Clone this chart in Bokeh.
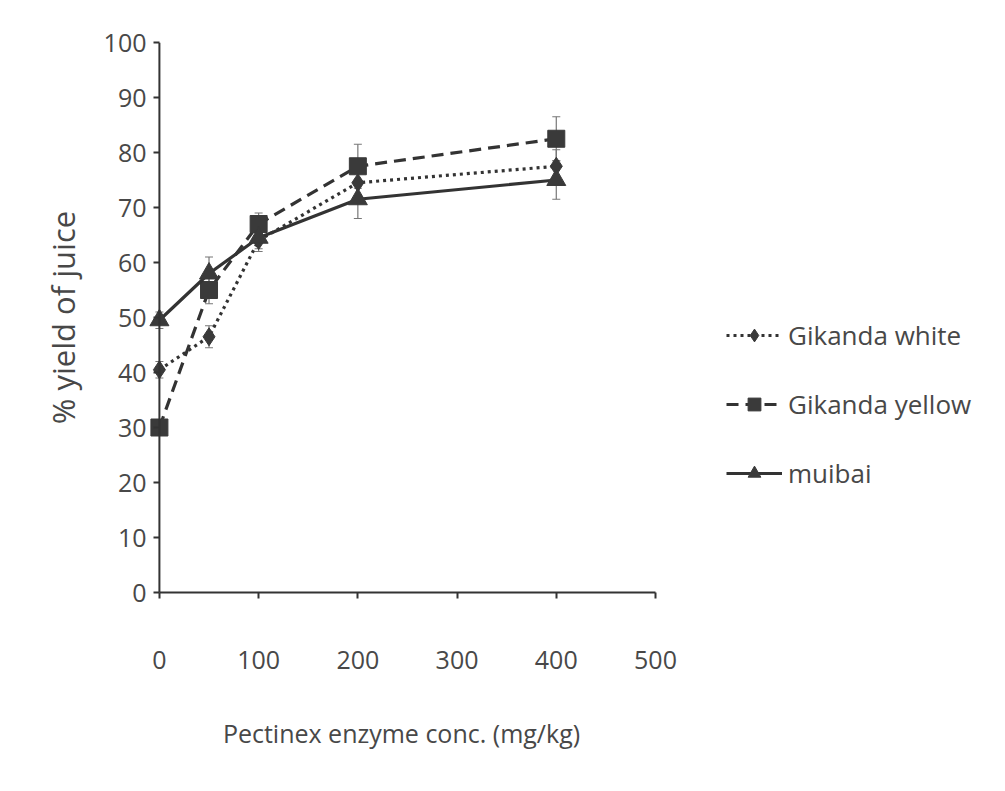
from bokeh.plotting import figure
from bokeh.models import (Range1d, FixedTicker, Legend, LegendItem, Whisker,
                          ColumnDataSource, TeeHead, Span)
from bokeh.embed import file_html
from bokeh.resources import INLINE

# ---- data ----
conc = [0, 50, 100, 200, 400]
x_ticks = [0, 100, 200, 300, 400, 500]
y_ticks = [0, 10, 20, 30, 40, 50, 60, 70, 80, 90, 100]

gikanda_white = [40.5, 46.5, 64.0, 74.5, 77.5]
gikanda_white_err = [1.5, 2.0, 2.0, 3.0, 3.0]
gikanda_yellow = [30.0, 55.0, 67.0, 77.5, 82.5]
gikanda_yellow_err = [1.0, 2.5, 2.0, 4.0, 4.0]
muibai = [49.5, 58.0, 64.5, 71.5, 75.0]
muibai_err = [1.5, 3.0, 2.0, 3.5, 3.5]

series_names = ["Gikanda white", "Gikanda yellow", "muibai"]

FONT = "Open Sans"
TXT = "#484848"
INK = "#333333"

p = figure(frame_width=508, frame_height=550,
           min_border_left=147, min_border_right=334,
           min_border_top=42, min_border_bottom=183,
           x_range=Range1d(-12, 500), y_range=Range1d(0, 100),
           output_backend="svg", toolbar_location=None,
           background_fill_color="white", border_fill_color="white")
p.outline_line_color = None
p.grid.grid_line_color = None

# axes styling
for ax in (p.xaxis[0], p.yaxis[0]):
    ax.axis_line_color = INK
    ax.axis_line_width = 2
    ax.major_tick_line_color = INK
    ax.major_tick_line_width = 2
    ax.minor_tick_line_color = None
    ax.major_label_text_font = FONT
    ax.major_label_text_font_size = "25px"
    ax.major_label_text_color = TXT
    ax.axis_label_text_font = FONT
    ax.axis_label_text_color = TXT
    ax.axis_label_text_font_style = "normal"

p.xaxis.major_tick_in = 0
p.xaxis.major_tick_out = 6
# y axis sits at the frame's left edge; its visible line is drawn at x = 0
p.yaxis.axis_line_color = None
p.yaxis.major_tick_out = -6
p.yaxis.major_tick_in = 12

p.xaxis.ticker = FixedTicker(ticks=x_ticks)
p.yaxis.ticker = FixedTicker(ticks=y_ticks)
p.xaxis.bounds = (0, 500)
p.xaxis.major_label_standoff = 52
p.yaxis.major_label_standoff = 1
p.xaxis.axis_label = "Pectinex enzyme conc. (mg/kg)"
p.yaxis.axis_label = "% yield of juice"
p.xaxis.axis_label_text_font_size = "25px"
p.yaxis.axis_label_text_font_size = "31px"
p.xaxis.axis_label_standoff = 44
p.yaxis.axis_label_standoff = 17

p.add_layout(Span(location=0, dimension="height", line_color=INK, line_width=2))

data = [
    (gikanda_white, gikanda_white_err, "3 4", "diamond", 18),
    (gikanda_yellow, gikanda_yellow_err, "12 7", "square", 17),
    (muibai, muibai_err, "solid", "triangle", 19),
]

items = []
for name, (vals, errs, dash, marker, size) in zip(series_names, data):
    src = ColumnDataSource(dict(x=conc, y=vals,
                                lo=[v - e for v, e in zip(vals, errs)],
                                hi=[v + e for v, e in zip(vals, errs)]))
    w = Whisker(base="x", upper="hi", lower="lo", source=src,
                line_color="#777777", line_width=1.2,
                upper_head=TeeHead(size=8, line_color="#777777", line_width=1.2),
                lower_head=TeeHead(size=8, line_color="#777777", line_width=1.2))
    p.add_layout(w)
    lr = p.line("x", "y", source=src, line_color=INK, line_width=3.2,
                line_dash=dash)
    sr = p.scatter("x", "y", source=src, marker=marker, size=size,
                   fill_color="#3a3a3a", line_color="#3a3a3a")
    items.append(LegendItem(label=name, renderers=[lr, sr]))

legend = Legend(items=items, location=(71, 101),
                border_line_color=None, background_fill_alpha=0,
                padding=0, margin=0, spacing=33,
                glyph_width=56, glyph_height=32, label_height=32,
                label_standoff=6,
                label_text_font=FONT, label_text_font_size="26px",
                label_text_color=TXT)
p.add_layout(legend, "right")

open("out.html", "w").write(file_html(p, INLINE))
